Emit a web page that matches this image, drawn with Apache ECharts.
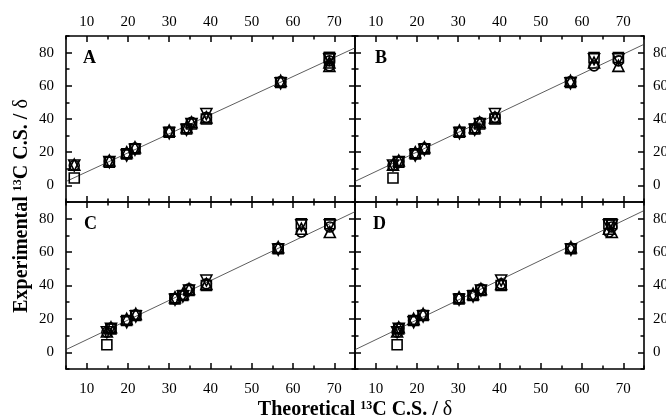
<!DOCTYPE html>
<html>
<head>
<meta charset="utf-8">
<script src="https://cdn.jsdelivr.net/npm/echarts@6/dist/echarts.min.js"></script>
<style>
html,body{margin:0;padding:0;background:#fff;}
#chart{width:666px;height:420px;}
</style>
</head>
<body>
<div id="chart"></div>
<script>
// ---- data ----
const panelNames = ['A', 'B', 'C', 'D'];
// theoretical shifts (x) per panel, one per experimental carbon
const theoA = [7, 15.5, 19.7, 21.7, 30, 34.2, 35.4, 39, 57, 68.8, 68.8];
const theoB = [14.2, 15.6, 19.6, 21.8, 30.3, 34, 35.2, 38.9, 57.2, 62.9, 68.8];
const theoC = [14.9, 15.9, 19.7, 21.9, 31.4, 33.3, 34.8, 39, 56.4, 62, 68.9];
const theoD = [15.2, 15.6, 19.2, 21.5, 30.2, 33.6, 35.5, 40.4, 57.3, 66.5, 67.2];
// experimental shifts (y) per marker set
const expSquare = [4.5, 14, 19, 22, 32, 34, 37, 40, 62, 77, 77];
const expCircle = [12, 14.5, 19, 22.5, 32, 34, 38, 41, 62.5, 72, 75];
const expUp = [12.5, 15, 20, 23, 33, 35, 38, 41, 63, 74, 72];
const expDown = [12, 14, 18, 21.5, 31.5, 33.5, 37, 43, 61.5, 76, 76];
// linear fit per panel: intercept, slope
const fitIntercept = [-3.4, -3.5, -4.3, -4.4];
const fitSlope = [1.15, 1.18, 1.18, 1.19];
const fitRange = [5, 75];
// axis ticks
const xMajor = [10, 20, 30, 40, 50, 60, 70];
const xMinor = [5, 15, 25, 35, 45, 55, 65, 75];
const yMajor = [0, 20, 40, 60, 80];
const yMinor = [-10, 10, 30, 50, 70, 90];
const xRange = [5, 75];
const yRange = [-10, 90];

// ---- layout ----
const theo = [theoA, theoB, theoC, theoD];
const FONT = 'Liberation Serif';
const gridPos = [
  {left: 66, top: 36, h: 166}, {left: 355, top: 36, h: 166},
  {left: 66, top: 202, h: 167}, {left: 355, top: 202, h: 167}
];
const grids = gridPos.map(p => ({left: p.left, top: p.top, width: 289, height: p.h, outerBoundsMode: 'none', containLabel: false}));

const xAxes = [], yAxes = [];
function axisBase(gi) {
  return {type: 'value', gridIndex: gi, splitLine: {show: false}};
}
for (let gi = 0; gi < 4; gi++) {
  const topRow = gi < 2, leftCol = gi % 2 === 0;
  const lineStyle = {color: '#000', width: 1.6};
  const labelStyle = {color: '#000', fontFamily: FONT, fontSize: 15};
  // x: bottom major, bottom minor, top major, top minor
  [['bottom', !topRow], ['top', topRow]].forEach(([pos, lab]) => {
    xAxes.push(Object.assign(axisBase(gi), {
      position: pos, min: xRange[0], max: xRange[1],
      axisLine: {show: true, onZero: false, lineStyle},
      axisTick: {show: true, inside: true, length: 6, customValues: xMajor, lineStyle: {color: '#000', width: 1.5}},
      axisLabel: {show: lab, customValues: xMajor, margin: pos === 'top' ? 6 : 13, ...labelStyle}
    }));
    xAxes.push(Object.assign(axisBase(gi), {
      position: pos, min: xRange[0], max: xRange[1],
      axisLine: {show: false, onZero: false},
      axisTick: {show: true, inside: true, length: 3.5, customValues: xMinor, lineStyle: {color: '#000', width: 1.5}},
      axisLabel: {show: false}
    }));
  });
  // y: left major, left minor, right major, right minor
  [['left', leftCol], ['right', !leftCol]].forEach(([pos, lab]) => {
    yAxes.push(Object.assign(axisBase(gi), {
      position: pos, min: yRange[0], max: yRange[1],
      axisLine: {show: true, onZero: false, lineStyle},
      axisTick: {show: true, inside: true, length: 6, customValues: yMajor, lineStyle: {color: '#000', width: 1.5}},
      axisLabel: {show: lab, customValues: yMajor, margin: pos === 'left' ? 12 : 9, ...labelStyle}
    }));
    yAxes.push(Object.assign(axisBase(gi), {
      position: pos, min: yRange[0], max: yRange[1],
      axisLine: {show: false, onZero: false},
      axisTick: {show: true, inside: true, length: 3.5, customValues: yMinor, lineStyle: {color: '#000', width: 1.5}},
      axisLabel: {show: false}
    }));
  });
}

const markerSets = [
  {name: 'square', symbol: 'rect', rotate: 0, size: 10, y: expSquare},
  {name: 'circle', symbol: 'circle', rotate: 0, size: 10, y: expCircle},
  {name: 'up', symbol: 'triangle', rotate: 0, size: 11, y: expUp},
  {name: 'down', symbol: 'triangle', rotate: 180, size: 11, y: expDown}
];

const series = [];
for (let gi = 0; gi < 4; gi++) {
  const a = fitIntercept[gi], b = fitSlope[gi];
  series.push({
    type: 'line', xAxisIndex: gi * 4, yAxisIndex: gi * 4,
    data: fitRange.map(x => [x, a + b * x]),
    symbol: 'none', clip: true, z: 1,
    lineStyle: {color: '#333', width: 0.8}
  });
  markerSets.forEach(m => {
    series.push({
      type: 'scatter', name: panelNames[gi] + '-' + m.name,
      xAxisIndex: gi * 4, yAxisIndex: gi * 4, z: 3,
      symbol: m.symbol, symbolSize: m.size, symbolRotate: m.rotate,
      data: theo[gi].map((x, i) => [x, m.y[i]]),
      itemStyle: {color: 'rgba(255,255,255,0)', borderColor: '#000', borderWidth: 1.6, opacity: 1}
    });
  });
}

const letterPos = [[83, 58], [375, 58], [84, 224], [373, 224]];
const graphic = panelNames.map((n, i) => ({
  type: 'text', x: letterPos[i][0], y: letterPos[i][1],
  style: {text: n, fontFamily: FONT, fontWeight: 'bold', fontSize: 18, fill: '#000', verticalAlign: 'middle'}
}));
const titleRich = {
  b: {fontFamily: FONT, fontWeight: 'bold', fontSize: 20, fill: '#000', color: '#000'},
  s: {fontFamily: FONT, fontWeight: 'bold', fontSize: 12, fill: '#000', color: '#000', verticalAlign: 'top'},
  d: {fontFamily: FONT, fontSize: 20, fill: '#000', color: '#000'}
};
graphic.push({
  type: 'text', x: 355, y: 410,
  style: {text: '{b|Theoretical }{s|13}{b|C C.S. / }{d|δ}', rich: titleRich, align: 'center', verticalAlign: 'middle'}
});
graphic.push({
  type: 'text', x: 22, y: 206, rotation: Math.PI / 2,
  style: {text: '{b|Experimental }{s|13}{b|C C.S. / }{d|δ}', rich: titleRich, align: 'center', verticalAlign: 'middle'}
});

const chart = echarts.init(document.getElementById('chart'), null, {renderer: 'canvas'});
chart.setOption({
  animation: false,
  backgroundColor: '#fff',
  grid: grids,
  xAxis: xAxes,
  yAxis: yAxes,
  series,
  graphic
});
</script>
</body>
</html>
